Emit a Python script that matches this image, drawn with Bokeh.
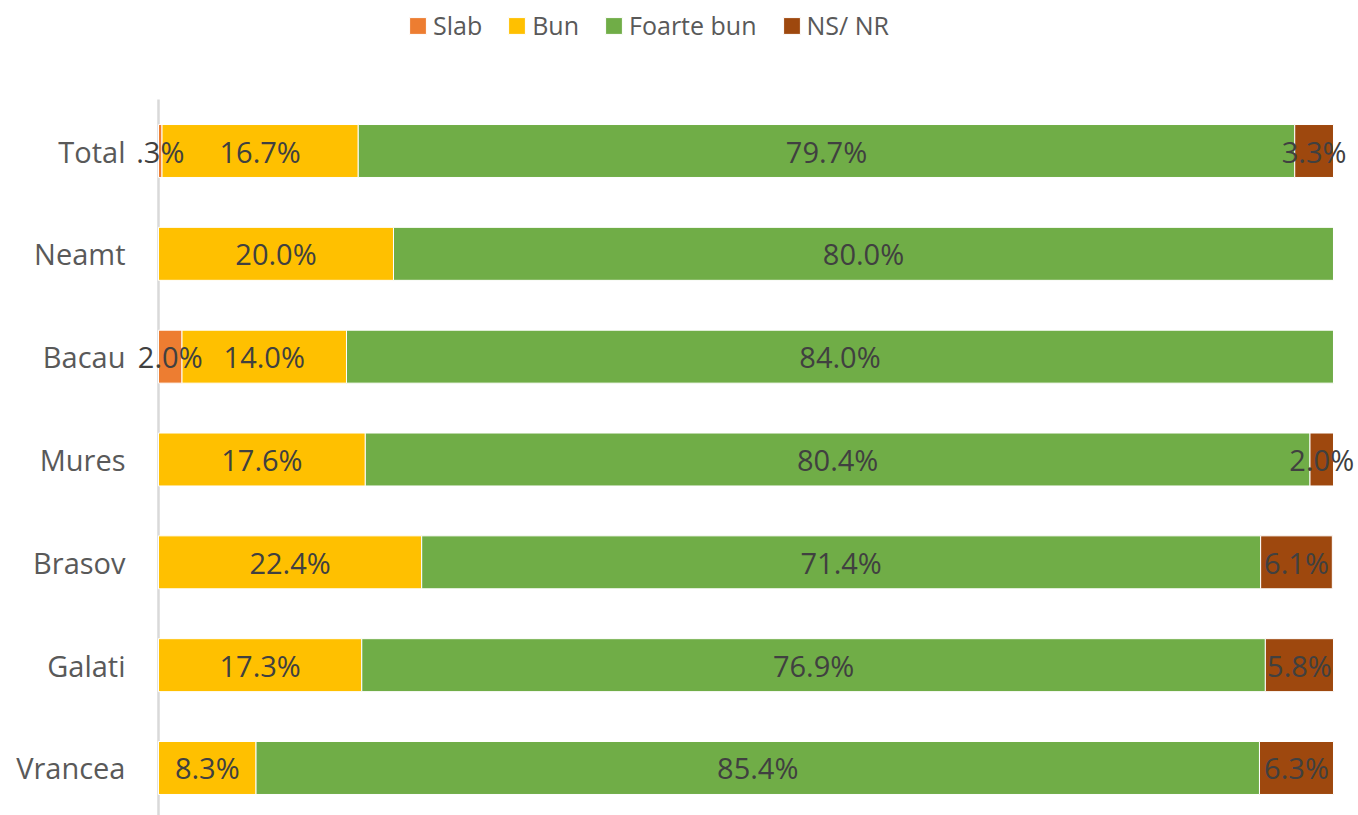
from bokeh.plotting import figure
from bokeh.models import ColumnDataSource, Range1d, FixedTicker
from bokeh.core.properties import value
from bokeh.embed import file_html
from bokeh.resources import INLINE

categories = ["Total", "Neamt", "Bacau", "Mures", "Brasov", "Galati", "Vrancea"]
series_names = ["Slab", "Bun", "Foarte bun", "NS/ NR"]
slab = [0.3, 0.0, 2.0, 0.0, 0.0, 0.0, 0.0]
bun = [16.7, 20.0, 14.0, 17.6, 22.4, 17.3, 8.3]
foarte_bun = [79.7, 80.0, 84.0, 80.4, 71.4, 76.9, 85.4]
ns_nr = [3.3, 0.0, 0.0, 2.0, 6.1, 5.8, 6.3]
colors = ["#ED7D31", "#FFC000", "#70AD47", "#9E480E"]

FONT = "Open Sans"
n = len(categories)
ypos = [n - 1 - i for i in range(n)]
cols = ["slab", "bun", "foarte_bun", "ns_nr"]
source = ColumnDataSource(dict(y=ypos, slab=slab, bun=bun,
                               foarte_bun=foarte_bun, ns_nr=ns_nr))

p = figure(width=1358, height=815, output_backend="svg", toolbar_location=None,
           x_range=Range1d(-2.383, 102.128), y_range=Range1d(-0.462, 7.4636),
           min_border_left=130, min_border_right=0, min_border_top=0,
           min_border_bottom=0)
p.outline_line_color = None
p.xgrid.visible = False
p.ygrid.visible = False
p.xaxis.visible = False

# value axis line (at 0) spanning the category band
p.segment(x0=[0], x1=[0], y0=[-0.5], y1=[n - 0.5], line_color="#D9D9D9",
          line_width=2.5)

p.hbar_stack(cols, y="y", height=0.515, color=colors, line_color="white",
             line_width=1, source=source, legend_label=series_names)

# data labels
lx, ly, lt = [], [], []
series = [slab, bun, foarte_bun, ns_nr]
for i in range(n):
    left = 0.0
    for s in series:
        v = s[i]
        if v > 0:
            lx.append(left + v / 2)
            ly.append(ypos[i])
            txt = f"{v:.1f}%"
            if v < 1:
                txt = txt.lstrip("0")
            lt.append(txt)
        left += v
lsrc = ColumnDataSource(dict(x=lx, y=ly, t=lt))
p.text(x="x", y="y", text="t", source=lsrc, text_align="center",
       text_baseline="middle", text_font=value(FONT), text_font_size="29px",
       text_color="#404040")

yax = p.yaxis[0]
yax.ticker = FixedTicker(ticks=ypos)
yax.major_label_overrides = {ypos[i]: categories[i] for i in range(n)}
yax.major_tick_line_color = None
yax.minor_tick_line_color = None
yax.major_tick_out = 0
yax.major_tick_in = 0
yax.axis_line_color = None
yax.major_label_standoff = 5
yax.major_label_text_font = FONT
yax.major_label_text_font_size = "29px"
yax.major_label_text_color = "#595959"

lg = p.legend[0]
lg.orientation = "horizontal"
lg.location = (277, 773)
lg.label_text_font = FONT
lg.label_text_font_size = "25px"
lg.label_text_color = "#595959"
lg.glyph_width = 21
lg.glyph_height = 21
lg.label_standoff = 5
lg.spacing = 24
lg.padding = 0
lg.margin = 0
lg.border_line_color = None
lg.background_fill_alpha = 0

open("out.html", "w").write(file_html(p, INLINE))
